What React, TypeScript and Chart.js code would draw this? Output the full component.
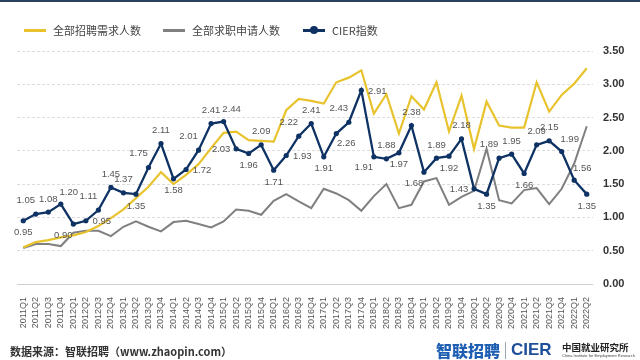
import React, { useEffect, useRef } from "react";
import { Chart, registerables } from "chart.js";

Chart.register(...registerables);

const quarters = [
  "2011Q1", "2011Q2", "2011Q3", "2011Q4",
  "2012Q1", "2012Q2", "2012Q3", "2012Q4",
  "2013Q1", "2013Q2", "2013Q3", "2013Q4",
  "2014Q1", "2014Q2", "2014Q3", "2014Q4",
  "2015Q1", "2015Q2", "2015Q3", "2015Q4",
  "2016Q1", "2016Q2", "2016Q3", "2016Q4",
  "2017Q1", "2017Q2", "2017Q3", "2017Q4",
  "2018Q1", "2018Q2", "2018Q3", "2018Q4",
  "2019Q1", "2019Q2", "2019Q3", "2019Q4",
  "2020Q1", "2020Q2", "2020Q3", "2020Q4",
  "2021Q1", "2021Q2", "2021Q3", "2021Q4",
  "2022Q1", "2022Q2",
];

// 全部招聘需求人数 (plotted on the same 0–3.5 scale)
const recruitDemand = [
  0.55, 0.63, 0.66, 0.70, 0.73, 0.78, 0.87, 0.99,
  1.12, 1.29, 1.46, 1.68, 1.50, 1.64, 1.80, 2.04,
  2.27, 2.29, 2.16, 2.15, 2.14, 2.61, 2.78, 2.75,
  2.71, 3.03, 3.10, 3.21, 2.56, 2.85, 2.26, 2.82,
  2.62, 3.03, 2.29, 2.83, 2.03, 2.74, 2.38, 2.35,
  2.35, 3.03, 2.59, 2.84, 3.01, 3.24,
];

// 全部求职申请人数
const jobApplications = [
  0.54, 0.60, 0.60, 0.57, 0.77, 0.80, 0.80, 0.72,
  0.86, 0.94, 0.86, 0.79, 0.93, 0.95, 0.90, 0.85,
  0.94, 1.12, 1.10, 1.04, 1.25, 1.35, 1.24, 1.14,
  1.43, 1.36, 1.26, 1.10, 1.32, 1.50, 1.14, 1.19,
  1.54, 1.59, 1.19, 1.31, 1.40, 2.03, 1.26, 1.21,
  1.41, 1.44, 1.20, 1.43, 1.81, 2.37,
];

// CIER指数
const cierIndex = [
  0.95, 1.05, 1.08, 1.20, 0.90, 0.95, 1.11, 1.45,
  1.37, 1.35, 1.75, 2.11, 1.58, 1.72, 2.01, 2.41,
  2.44, 2.03, 1.96, 2.09, 1.71, 1.93, 2.22, 2.41,
  1.91, 2.26, 2.43, 2.91, 1.91, 1.88, 1.97, 2.38,
  1.68, 1.89, 1.92, 2.18, 1.43, 1.35, 1.89, 1.95,
  1.66, 2.09, 2.15, 1.99, 1.56, 1.35,
];

// where each CIER value label sits relative to its point
const cierLabelSide = [
  "b", "tl", "t", "tr", "bl", "r", "tl", "t",
  "t", "b", "tl", "t", "b", "r", "tl", "t",
  "tr", "l", "b", "t", "b", "r", "tl", "t",
  "b", "br", "tl", "r", "bl", "t", "b", "t",
  "bl", "t", "b", "t", "l", "b", "tl", "t",
  "b", "t", "t", "tr", "tr", "b",
];

const yTicks = [0, 0.5, 1, 1.5, 2, 2.5, 3, 3.5];

const LATIN = '"Liberation Sans", Arial, "Noto Sans CJK SC", sans-serif';
const NAVY = "#0e3263";
const YELLOW = "#e8c32e";
const GRAY = "#808080";

const sideOffsets: Record<string, [number, number]> = {
  t: [0, -13],
  b: [0, 12],
  tl: [-10, -14],
  tr: [8, -12],
  bl: [-10, 11],
  br: [10, 10],
  l: [-15, 1],
  r: [16, 1],
};

const cierLabelPlugin = {
  id: "cierLabels",
  afterDatasetsDraw(chart: any) {
    const meta = chart.getDatasetMeta(0);
    const ctx = chart.ctx;
    ctx.save();
    ctx.font = `9.5px ${LATIN}`;
    ctx.fillStyle = "#555555";
    ctx.textAlign = "center";
    ctx.textBaseline = "middle";
    meta.data.forEach((pt: any, i: number) => {
      const [dx, dy] = sideOffsets[cierLabelSide[i]] || [0, -12];
      ctx.fillText(cierIndex[i].toFixed(2), pt.x + dx, pt.y + dy);
    });
    ctx.restore();
  },
};

function LegendItem({ left, color, text, dot }: { left: number; color: string; text: string; dot?: boolean }) {
  return (
    <div style={{ position: "absolute", left, top: 22, height: 16, display: "flex", alignItems: "center" }}>
      <div style={{ position: "relative", width: 22, height: 3, background: color, marginRight: 7 }}>
        {dot && (
          <div
            style={{
              position: "absolute",
              left: 7,
              top: -3,
              width: 8,
              height: 8,
              borderRadius: 4,
              background: color,
            }}
          />
        )}
      </div>
      <span style={{ fontFamily: '"Noto Sans CJK SC", sans-serif', fontSize: 11, color: "#444", whiteSpace: "nowrap" }}>
        {text}
      </span>
    </div>
  );
}

export default function App() {
  const canvasRef = useRef<HTMLCanvasElement | null>(null);

  useEffect(() => {
    document.body.style.margin = "0";
    const canvas = canvasRef.current;
    if (!canvas) return;
    const chart = new Chart(canvas, {
      type: "line",
      data: {
        labels: quarters,
        datasets: [
          {
            label: "CIER指数",
            data: cierIndex,
            borderColor: NAVY,
            backgroundColor: NAVY,
            borderWidth: 2.3,
            pointRadius: 2.6,
            pointBackgroundColor: NAVY,
            pointBorderWidth: 0,
            tension: 0,
            order: 0,
          },
          {
            label: "全部招聘需求人数",
            data: recruitDemand,
            borderColor: YELLOW,
            backgroundColor: YELLOW,
            borderWidth: 2.2,
            pointRadius: 0,
            tension: 0,
            order: 1,
          },
          {
            label: "全部求职申请人数",
            data: jobApplications,
            borderColor: GRAY,
            backgroundColor: GRAY,
            borderWidth: 2,
            pointRadius: 0,
            tension: 0,
            order: 2,
          },
        ],
      },
      options: {
        animation: false,
        responsive: false,
        layout: { padding: { top: 51, left: 17, right: 0, bottom: 28 } },
        plugins: {
          legend: { display: false },
          tooltip: { enabled: false },
        },
        scales: {
          x: {
            offset: true,
            grid: { display: false },
            border: { display: false },
            ticks: {
              autoSkip: false,
              maxRotation: 90,
              minRotation: 90,
              padding: 5,
              color: "#555",
              font: { size: 9, family: LATIN },
            },
            afterFit(scale: any) {
              scale.height = 48;
            },
          },
          y: {
            position: "right",
            min: 0,
            max: 3.5,
            afterBuildTicks(scale: any) {
              scale.ticks = yTicks.map((v) => ({ value: v }));
            },
            ticks: {
              padding: 10,
              color: "#333",
              font: { size: 11, weight: "bold", family: LATIN },
              callback: (v: any) => Number(v).toFixed(2),
            },
            grid: {
              drawTicks: false,
              color: (c: any) => (c.tick && c.tick.value === 0 ? "#d0d0d0" : "#dcdcdc"),
              lineWidth: 1,
            },
            border: {
              display: false,
              dash: (c: any) => (c.tick && c.tick.value === 0 ? [] : [3, 2]),
            },
            afterFit(scale: any) {
              scale.width = 47;
            },
          },
        },
      },
      plugins: [cierLabelPlugin],
    } as any);
    return () => chart.destroy();
  }, []);

  return (
    <div style={{ position: "absolute", left: 0, top: 0, width: 640, height: 360, background: "#fff", overflow: "hidden" }}>
      <div style={{ position: "absolute", left: 0, top: 0, width: 640, height: 2, background: "#2b3f5e" }} />
      <canvas ref={canvasRef} width={640} height={360} style={{ position: "absolute", left: 0, top: 0 }} />
      <LegendItem left={24} color={YELLOW} text="全部招聘需求人数" />
      <LegendItem left={163} color={GRAY} text="全部求职申请人数" />
      <LegendItem left={303} color={NAVY} text="CIER指数" dot />
      <div
        style={{
          position: "absolute",
          left: 10,
          top: 344,
          fontFamily: '"Noto Sans CJK SC", sans-serif',
          fontSize: 11,
          fontWeight: 700,
          color: "#333",
          whiteSpace: "nowrap",
          lineHeight: "14px",
        }}
      >
        数据来源：智联招聘（www.zhaopin.com）
      </div>
      <div
        style={{
          position: "absolute",
          left: 436,
          top: 340,
          fontFamily: '"Noto Sans CJK SC", sans-serif',
          fontSize: 16,
          fontWeight: 900,
          color: "#1e5fb4",
          whiteSpace: "nowrap",
          lineHeight: "20px",
        }}
      >
        智联招聘
      </div>
      <div style={{ position: "absolute", left: 505, top: 342, width: 1, height: 17, background: "#9aa7b8" }} />
      <div
        style={{
          position: "absolute",
          left: 511,
          top: 340,
          fontFamily: LATIN,
          fontSize: 17,
          fontWeight: 700,
          color: "#1d4f98",
          whiteSpace: "nowrap",
          lineHeight: "20px",
        }}
      >
        CIER
      </div>
      <div
        style={{
          position: "absolute",
          left: 562,
          top: 342,
          fontFamily: '"Noto Sans CJK SC", sans-serif',
          fontSize: 9.5,
          fontWeight: 700,
          color: "#222",
          whiteSpace: "nowrap",
          lineHeight: "11px",
        }}
      >
        中国就业研究所
      </div>
      <div
        style={{
          position: "absolute",
          left: 562,
          top: 353,
          fontFamily: LATIN,
          fontSize: 4,
          color: "#444",
          whiteSpace: "nowrap",
          lineHeight: "5px",
        }}
      >
        China Institute for Employment Research
      </div>
    </div>
  );
}
